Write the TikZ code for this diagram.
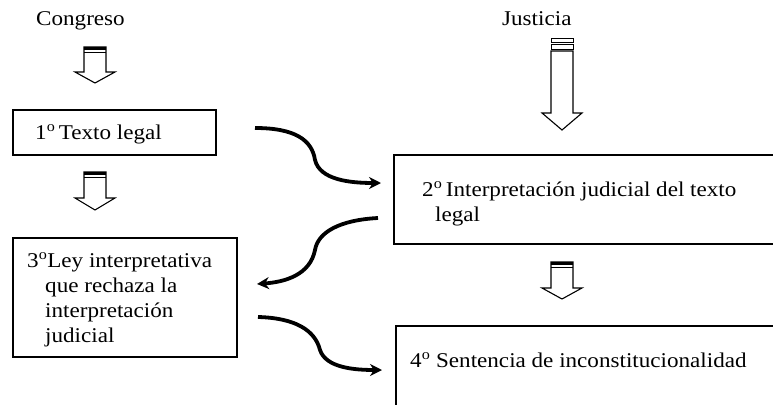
\documentclass[tikz,border=0pt]{standalone}
\usepackage{fontspec}
\setmainfont{Liberation Serif}[FakeStretch=1.1]
\usetikzlibrary{arrows.meta}
\newcommand\blkarrow[4]{% center x, top y, head start y, apex y
  \draw[barrow] (#1-11,#2) -- (#1+11,#2) -- (#1+11,#3) -- (#1+20,#3) -- (#1,#4) -- (#1-20,#3) -- (#1-11,#3) -- cycle;}
\begin{document}
\begin{tikzpicture}[x=1pt,y=-1pt,
  box/.style={draw,line width=1.2pt,inner sep=0pt},
  lbl/.style={anchor=base west,inner sep=0pt,font=\fontsize{21}{25}\selectfont},
  flow/.style={line width=3.8pt,-{Stealth[length=12pt,width=12pt]}},
  barrow/.style={draw,line width=1.1pt,fill=white}]
\useasboundingbox (0,0) rectangle (773,404);
\clip (0,0) rectangle (773,404);
% headings
\node[lbl] (cong) at (36,26) {Congreso};
\node[lbl] (just) at (502,26) {Justicia};
% boxes
\node[box,minimum width=203pt,minimum height=45pt] (b1) at (114.5,132.5) {};
\node[box,minimum width=406pt,minimum height=89pt] (b2) at (597,199.5) {};
\node[box,minimum width=224pt,minimum height=119pt] (b3) at (125,297.5) {};
\node[box,minimum width=400pt,minimum height=100pt] (b4) at (596,376) {};
% texts
\node[lbl] (t1) at (35,139) {1\textsuperscript{o}\,Texto legal};
\node[lbl] (t2a) at (422,196) {2\textsuperscript{o}\,Interpretación judicial del texto};
\node[lbl] (t2b) at (435,221) {legal};
\node[lbl] (t3a) at (27,267) {3\textsuperscript{o}Ley interpretativa};
\node[lbl] (t3b) at (45,292) {que rechaza la};
\node[lbl] (t3c) at (45,317) {interpretación};
\node[lbl] (t3d) at (45,342) {judicial};
\node[lbl] (t4) at (410,367) {4\textsuperscript{o} Sentencia de inconstitucionalidad};
% block arrows
\blkarrow{95}{47}{72}{83}
\fill (84,47) rectangle (106,50);
\draw[line width=0.8pt] (84,52) -- (106,52);
\blkarrow{95}{172}{198}{210}
\fill (84,172) rectangle (106,175);
\draw[line width=0.8pt] (84,177) -- (106,177);
\blkarrow{562}{51}{113}{130}
\draw[line width=1pt] (551,39) rectangle (573,43);
\draw[line width=1pt] (551,45) rectangle (573,50);
\blkarrow{562}{262}{288}{299}
\fill (551,262) rectangle (573,265);
\draw[line width=0.8pt] (551,267) -- (573,267);
% curved connectors
\coordinate (c1s) at (255,128); \coordinate (c1e) at (381,183);
\coordinate (c2s) at (378,218); \coordinate (c2e) at (257,284);
\coordinate (c3s) at (258,317); \coordinate (c3e) at (382,370);
\draw[flow] (c1s) .. controls (295,128) and (312,140) .. (315,160) .. controls (320,180) and (350,183) .. (c1e);
\draw[flow] (c2s) .. controls (340,220) and (318,232) .. (315,250) .. controls (310,275) and (285,282) .. (c2e);
\draw[flow] (c3s) .. controls (295,318) and (315,330) .. (320,350) .. controls (326,368) and (355,370) .. (c3e);
\end{tikzpicture}
\end{document}
